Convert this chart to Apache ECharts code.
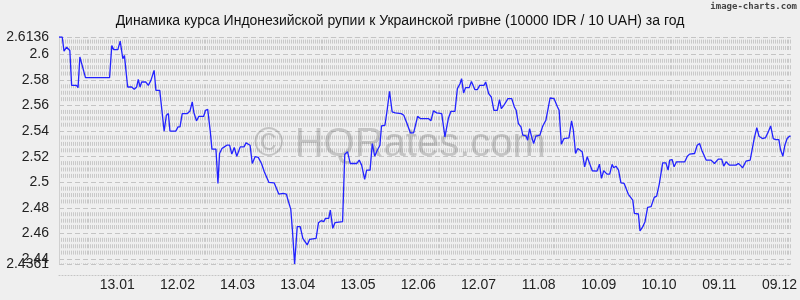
<!DOCTYPE html>
<html><head><meta charset="utf-8">
<script src="https://cdn.jsdelivr.net/npm/echarts@6/dist/echarts.min.js"></script>
<style>html,body{margin:0;padding:0;background:#efefef}#c{width:800px;height:300px}</style>
</head><body><div id="c"></div>
<script>
const titleText = 'Динамика курса Индонезийской рупии к Украинской гривне (10000 IDR / 10 UAH) за год';
const watermarkText = '© HQRates.com';
const brandText = 'image-charts.com';
const yMin = 2.4361, yMax = 2.6136;
const yLabelValues = [2.44, 2.46, 2.48, 2.5, 2.52, 2.54, 2.56, 2.58, 2.6];
const yEndLabelValues = [2.4361, 2.6136];
const xLabelDays = [29, 59, 89, 119, 149, 179, 209, 239, 269, 299, 329, 359];
const xLabels = ['13.01', '12.02', '14.03', '13.04', '13.05', '12.06', '12.07', '11.08', '10.09', '10.10', '09.11', '09.12'];
const dayMax = 364.6;
const days = [0,1.6,2.5,3.8,4.6,5.4,6.3,8.7,9.5,10.4,11.2,13.2,25.2,26.3,27.3,29.3,30.5,31.8,32.6,34.2,36.2,37.5,38.7,39.5,40.4,41.2,43.3,44.5,45.8,47.4,48.3,50.2,52.4,53.5,54.5,55.3,58.2,59.3,60.3,61.4,63.9,65.2,66.4,67.2,68.5,69.7,72.1,73.0,74.1,75.4,76.2,78.2,79.2,80.0,81.2,82.4,83.6,85.0,86.1,87.3,88.6,90.3,92.2,93.2,95.2,96.3,
97.7,99.3,100.9,102.3,104.6,107.2,109.5,111.7,113.3,114.1,115.5,116.3,117.4,118.7,120.2,121.5,123.7,124.9,128.1,129.3,130.6,131.9,132.8,134.4,135.2,136.4,137.5,141.3,142.4,143.8,145.1,148.4,149.6,150.8,152.3,153.3,155.0,156.1,157.3,158.6,159.9,160.7,162.4,163.5,164.7,166.0,167.6,170.5,171.8,173.4,175.1,176.7,178.7,180.0,184.1,185.3,186.6,188.2,
190.7,192.3,194.0,195.3,197.3,198.5,199.8,200.6,201.6,202.6,204.4,205.5,207.2,208.5,209.6,211.8,212.6,214.1,215.4,216.7,218.4,219.5,220.4,222.0,223.7,225.6,226.9,227.8,228.9,230.2,231.1,232.7,233.5,234.5,235.5,236.5,237.6,239.6,241.0,242.6,243.7,244.7,246.7,248.4,249.2,250.3,251.6,254.1,255.4,256.3,257.4,258.5,260.7,261.9,263.2,264.5,265.7,268.1,269.3,270.3,271.4,273.1,274.4,275.6,276.4,277.5,278.8,280.0,281.6,283.7,285.9,286.7,288.7,289.5,
290.9,292.0,293.3,295.0,296.6,297.8,299.1,299.8,300.8,302.4,303.5,304.3,305.5,306.5,307.7,311.8,313.1,314.2,316.7,318.0,319.2,320.3,322.5,324.9,326.6,327.4,328.5,330.2,331.2,332.4,334.0,337.3,338.5,339.5,340.6,342.3,344.4,346.4,347.7,348.8,350.5,352.1,353.4,354.6,355.9,357.1,358.7,359.5,360.7,361.7,362.8,364.0,364.5];
const rates = [2.6136,2.6136,2.6026,2.6057,2.6057,2.603,2.5758,2.5758,2.574,2.598,2.598,2.5818,2.5818,2.607,2.6037,2.6037,2.6104,2.5966,2.5992,2.5745,2.5745,2.5727,2.5745,2.5805,2.5745,2.5784,2.5784,2.5758,2.5797,2.5875,2.5719,2.5719,2.5399,2.5524,2.5537,2.540,2.540,2.5433,2.5433,2.5537,2.5537,2.5555,2.5628,2.5546,2.548,2.5516,2.5516,2.5563,2.557,2.5394,2.5259,2.5259,2.4991,2.5225,2.5264,2.5277,2.529,2.529,2.522,2.5272,2.5204,2.5277,2.5277,2.5308,2.529,2.5147,
2.52,2.5195,2.5147,2.5082,2.4999,2.4996,2.4908,2.4913,2.4908,2.4861,2.4788,2.4627,2.4361,2.4653,2.4653,2.4562,2.451,2.4554,2.4562,2.4684,2.4700,2.4692,2.4718,2.4718,2.4783,2.464,2.4684,2.4692,2.522,2.5238,2.5147,2.5147,2.5173,2.5134,2.5022,2.5095,2.5095,2.5303,2.5204,2.5251,2.529,2.5441,2.5446,2.5563,2.5711,2.555,2.5543,2.5537,2.5524,2.5459,2.5386,2.5386,2.5516,2.5498,2.5498,2.548,2.5558,2.5543,
2.5537,2.5355,2.5498,2.5555,2.5555,2.5732,2.5771,2.581,2.5698,2.574,2.574,2.5789,2.5725,2.5725,2.5758,2.5758,2.5784,2.5693,2.5667,2.5563,2.5563,2.5647,2.5576,2.561,2.5654,2.5654,2.5589,2.5563,2.5459,2.5433,2.5368,2.5363,2.5329,2.542,2.5355,2.5303,2.536,2.5368,2.5438,2.5485,2.5576,2.5659,2.5654,2.5589,2.5563,2.5298,2.5342,2.5347,2.548,2.5407,2.5225,2.5264,2.5238,2.5121,2.52,2.5142,2.509,2.5087,2.5142,2.503,2.509,2.5064,2.5064,2.514,2.5113,2.5126,2.5095,2.4996,2.4991,2.4906,2.4861,2.4757,2.4752,2.4619,
2.4653,2.4692,2.4804,2.4809,2.4882,2.4892,2.4986,2.4991,2.5152,2.5152,2.5095,2.5173,2.5178,2.5121,2.516,2.516,2.5204,2.522,2.5225,2.5289,2.5303,2.5251,2.5173,2.5173,2.5147,2.5142,2.5181,2.5181,2.5126,2.516,2.5134,2.5134,2.5147,2.5134,2.5113,2.5165,2.5173,2.5342,2.5428,2.536,2.5342,2.535,2.5394,2.5441,2.5342,2.5334,2.5334,2.5256,2.5204,2.529,2.5342,2.536,2.536];

const seriesData = days.map((d, i) => [d, rates[i]]);
const gridTop = 37, gridBottom = 36, chartH = 300;
const pxPerUnit = (chartH - gridTop - gridBottom) / (yMax - yMin);
const q = 0.005 * pxPerUnit; // quarter of major step in px
const major26 = gridTop + (yMax - 2.6) * pxPerUnit;
const startRel = major26 + q - 2 - gridTop;
const period = 4 * q;
const dashOff = ((-startRel) % period + period) % period;
const labelFont = 'Liberation Sans, Arial, sans-serif';

const chart = echarts.init(document.getElementById('c'), null, {renderer: 'canvas'});
chart.setOption({
  backgroundColor: '#efefef',
  animation: false,
  title: {
    text: titleText, left: 'center', top: 9,
    textStyle: {fontFamily: labelFont, fontSize: 14, fontWeight: 'normal', color: '#111'}
  },
  graphic: [
    {type: 'text', right: 3, top: 2, z: 10,
     style: {text: brandText, font: 'bold 9px "DejaVu Sans Mono", monospace', fill: '#444'}},
    {type: 'text', left: 'center', top: 125, z: 1, silent: true,
     style: {text: watermarkText, font: '40px "Liberation Sans", Arial, sans-serif', fill: 'rgba(110,110,110,0.32)'}}
  ],
  grid: {left: 59, right: 3, top: gridTop, bottom: gridBottom},
  xAxis: [
    {type: 'value', min: 0, max: dayMax, offset: 11,
     axisLine: {show: true, lineStyle: {color: '#c4c4c4', type: [1, 2]}},
     axisTick: {show: false},
     splitLine: {show: false},
     axisLabel: {customValues: xLabelDays, margin: 3, color: '#222', fontSize: 14, fontFamily: labelFont,
       hideOverlap: false,
       formatter: v => { const k = xLabelDays.indexOf(Math.round(v)); return k >= 0 ? xLabels[k] : ''; }}
    },
    {type: 'value', min: 0, max: 369, interval: 1, position: 'top',
     axisLine: {show: false}, axisTick: {show: false}, axisLabel: {show: false},
     splitLine: {show: true, lineStyle: {color: '#c9c9c9', width: 1,
       type: [4, q - 4, 4, q - 4, 4, 2 * q - 4], dashOffset: dashOff}}
    }
  ],
  yAxis: [
    {type: 'value', min: yMin, max: yMax, splitNumber: 8, position: 'left',
     axisLine: {show: true, lineStyle: {color: '#d0d0d0'}},
     axisTick: {show: false},
     axisLabel: {customValues: yLabelValues, margin: 10, color: '#222', fontSize: 14, fontFamily: labelFont,
       hideOverlap: false},
     splitLine: {show: true, lineStyle: {color: '#c4c4c4', type: [5, 3]}}
    },
    {type: 'value', min: yMin, max: yMax, position: 'left', offset: 0,
     axisLine: {show: false}, axisTick: {show: false}, splitLine: {show: false},
     axisLabel: {customValues: yEndLabelValues, margin: 10, color: '#222', fontSize: 14, fontFamily: labelFont,
       hideOverlap: false, showMinLabel: true, showMaxLabel: true}
    }
  ],
  series: [{
    type: 'line', data: seriesData, xAxisIndex: 0, yAxisIndex: 0, showSymbol: false, symbol: 'none',
    lineStyle: {color: '#2222ff', width: 1.3}, z: 5
  }]
});
</script></body></html>
